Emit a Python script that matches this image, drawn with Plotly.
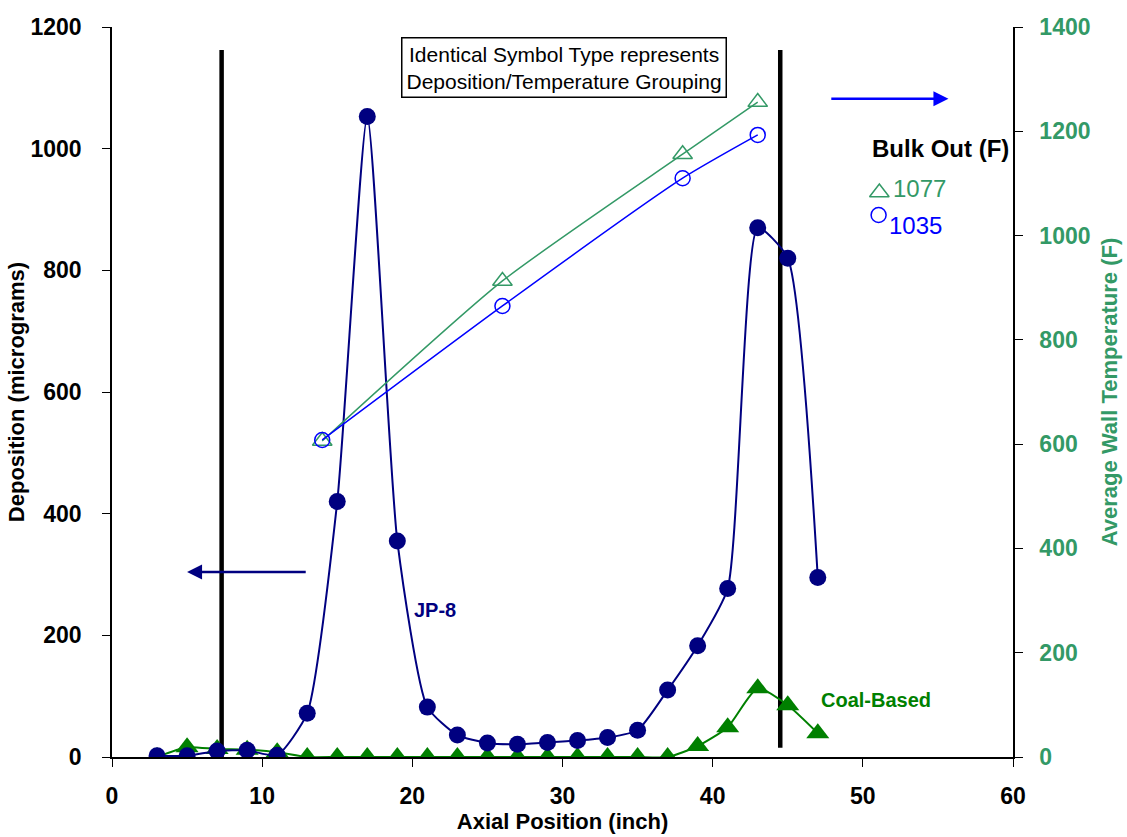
import plotly.graph_objects as go

# ---- data ----
axial_pos = [3, 5, 7, 9, 11, 13, 15, 17, 19, 21, 23, 25, 27, 29, 31, 33, 35, 37, 39, 41, 43, 45, 47]
jp8_dep = [2, 2, 10, 11, 3, 72, 420, 1053, 355, 82, 36, 23, 21, 24, 27, 32, 44, 110, 183, 277, 870, 820, 295]
coal_dep = [0, 16, 13, 12, 8, 0, 0, 0, 0, 0, 0, 0, 0, 0, 0, 0, 0, 0, 18, 49, 113, 85, 39]

temp_pos = [14, 26, 38, 43]
temp_coal = [606, 913, 1156, 1256]
temp_jp8 = [608, 865, 1110, 1193]

heater_x = [7.3, 44.5]
heater_top = [1162, 1162]
heater_bottom = [0, 15]

bulk_out_coal = 1077
bulk_out_jp8 = 1035

x_ticks = [0, 10, 20, 30, 40, 50, 60]
y_ticks = [0, 200, 400, 600, 800, 1000, 1200]
y2_ticks = [0, 200, 400, 600, 800, 1000, 1200, 1400]

NAVY = "#000080"
GREEN = "#008000"
TGREEN = "#339966"
BLUE = "#0000FF"
FONT = "Arial, Liberation Sans, sans-serif"

fig = go.Figure()

# heater boundary lines
for hx, ht, hb in zip(heater_x, heater_top, heater_bottom):
    fig.add_trace(go.Scatter(x=[hx, hx], y=[hb, ht], mode="lines",
                             line=dict(color="black", width=4.5), showlegend=False, hoverinfo="skip"))

# temperature traces (right axis)
fig.add_trace(go.Scatter(x=temp_pos, y=temp_coal, yaxis="y2", mode="lines+markers",
                         line=dict(color=TGREEN, width=1.5, shape="spline", smoothing=0.6),
                         marker=dict(symbol="triangle-up-open", size=17, color=TGREEN, line=dict(width=1.5)),
                         showlegend=False))
fig.add_trace(go.Scatter(x=temp_pos, y=temp_jp8, yaxis="y2", mode="lines+markers",
                         line=dict(color=BLUE, width=1.5, shape="spline", smoothing=0.6),
                         marker=dict(symbol="circle-open", size=15, color=BLUE, line=dict(width=1.5)),
                         showlegend=False))

# deposition traces (left axis)
fig.add_trace(go.Scatter(x=axial_pos, y=coal_dep, mode="lines+markers",
                         line=dict(color=GREEN, width=2, shape="spline", smoothing=0.6),
                         marker=dict(symbol="triangle-up", size=20, color=GREEN),
                         showlegend=False))
fig.add_trace(go.Scatter(x=axial_pos, y=jp8_dep, mode="lines+markers",
                         line=dict(color=NAVY, width=2, shape="spline", smoothing=0.55),
                         marker=dict(symbol="circle", size=17, color=NAVY),
                         showlegend=False))

# bulk-out symbols
fig.add_trace(go.Scatter(x=[51.1], y=[928], mode="markers",
                         marker=dict(symbol="triangle-up-open", size=17, color=TGREEN, line=dict(width=1.5)),
                         showlegend=False))
fig.add_trace(go.Scatter(x=[51.05], y=[891], mode="markers",
                         marker=dict(symbol="circle-open", size=15, color=BLUE, line=dict(width=1.5)),
                         showlegend=False))

annotations = [
    dict(x=30.1, y=1134, xref="x", yref="y", showarrow=False,
         text="Identical Symbol Type represents<br>Deposition/Temperature Grouping",
         font=dict(family=FONT, size=21, color="black"), bordercolor="black", borderwidth=1.5,
         bgcolor="white", borderpad=4, align="center"),
    dict(x=21.5, y=242, xref="x", yref="y", showarrow=False, text="<b>JP-8</b>",
         font=dict(family=FONT, size=20, color=NAVY)),
    dict(x=50.9, y=94, xref="x", yref="y", showarrow=False, text="<b>Coal-Based</b>",
         font=dict(family=FONT, size=20, color=GREEN)),
    dict(x=55.2, y=1000, xref="x", yref="y", showarrow=False, text="<b>Bulk Out (F)</b>",
         font=dict(family=FONT, size=24, color="black")),
    dict(x=51.9, y=935, xref="x", yref="y", showarrow=False, text=str(bulk_out_coal), xanchor="left",
         font=dict(family=FONT, size=24, color=TGREEN)),
    dict(x=51.6, y=873, xref="x", yref="y", showarrow=False, text=str(bulk_out_jp8), xanchor="left",
         font=dict(family=FONT, size=24, color=BLUE)),
    # arrows
    dict(x=5.0, y=304, ax=13.0, ay=304, xref="x", yref="y", axref="x", ayref="y",
         showarrow=True, arrowhead=2, arrowsize=1.2, arrowwidth=2.5, arrowcolor=NAVY, text=""),
    dict(x=55.7, y=1082, ax=47.8, ay=1082, xref="x", yref="y", axref="x", ayref="y",
         showarrow=True, arrowhead=2, arrowsize=1.2, arrowwidth=2.5, arrowcolor=BLUE, text=""),
]

fig.update_layout(
    width=1127, height=837,
    margin=dict(l=112, r=114, t=27, b=80, autoexpand=False),
    paper_bgcolor="white", plot_bgcolor="white",
    font=dict(family=FONT, color="black"),
    annotations=annotations,
    xaxis=dict(range=[0, 60], tickvals=x_ticks, showline=True, linecolor="black", linewidth=1.5,
               ticks="outside", ticklen=8, tickcolor="black", showgrid=False, zeroline=False,
               automargin=False,
               tickfont=dict(family=FONT, size=23, color="black", weight="bold"), ticklabelstandoff=10,
               title=dict(text="<b>Axial Position (inch)</b>", font=dict(family=FONT, size=22, color="black"),
                          standoff=4)),
    yaxis=dict(range=[0, 1200], tickvals=y_ticks, showline=True, linecolor="black", linewidth=1.5,
               ticks="outside", ticklen=8, tickcolor="black", showgrid=False, zeroline=False,
               automargin=False,
               tickfont=dict(family=FONT, size=23, color="black", weight="bold"), ticklabelstandoff=16,
               title=dict(text="<b>Deposition (micrograms)</b>", font=dict(family=FONT, size=22, color="black"),
                          standoff=0)),
    yaxis2=dict(range=[0, 1400], tickvals=y2_ticks, overlaying="y", side="right", showline=True,
                linecolor="black", linewidth=1.5, ticks="outside", ticklen=8, tickcolor="black",
                showgrid=False, zeroline=False, automargin=False,
                tickfont=dict(family=FONT, size=23, color=TGREEN, weight="bold"), ticklabelstandoff=12,
                title=dict(text="<b>Average Wall Temperature (F)</b>", font=dict(family=FONT, size=22, color=TGREEN),
                           standoff=12)),
)

fig.write_html("out.html")
